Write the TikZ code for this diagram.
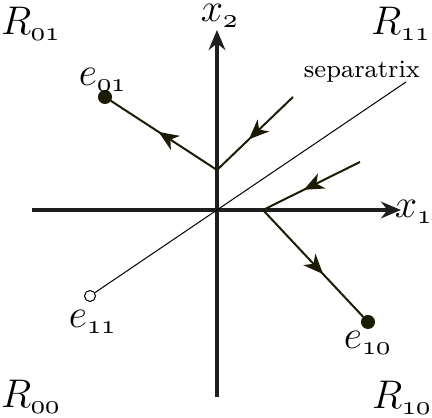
\documentclass[tikz,border=0pt]{standalone}
\usetikzlibrary{arrows.meta,decorations.markings}

\definecolor{axisgray}{RGB}{30,30,30}
\definecolor{trajcol}{RGB}{28,28,5}

\tikzset{
  axis/.style={line width=1pt, axisgray, -{Stealth[length=6pt,width=5pt]}},
  traj/.style={line width=0.6pt, trajcol},
  midarrow/.style={postaction={decorate}, decoration={markings,
      mark=at position #1 with {\arrow{Stealth[length=6pt,width=5pt,inset=1.8pt]}}}},
  sepline/.style={line width=0.3pt, black},
  fixpt/.style={circle, draw=trajcol, fill=trajcol, inner sep=0pt, minimum size=3.8pt},
  openpt/.style={circle, draw=black, fill=white, line width=0.3pt, inner sep=0pt, minimum size=3.3pt},
  lbl/.style={font=\fontsize{11.5}{13}\selectfont}
}

\begin{document}
\begin{tikzpicture}[x=0.3pt, y=-0.3pt]
  \useasboundingbox (0,0) rectangle (432,418);

  % axes
  \coordinate (O) at (217,210);
  \coordinate (xL) at (32,210);
  \coordinate (xR) at (401,210);
  \coordinate (yB) at (217,397);
  \coordinate (yT) at (217,30);
  \draw[axis] (xL) -- (xR);
  \draw[axis] (yB) -- (yT);
  \node[lbl] at (414,212) {$x_{\mathnormal{1}}$};
  \node[lbl, inner sep=0pt, anchor=south] at (220,28) {$x_{\mathnormal{2}}$};

  % region labels
  \node[lbl] (R01) at (31,24) {$R_{\mathnormal{01}}$};
  \node[lbl] (R11) at (401,24) {$R_{\mathnormal{11}}$};
  \node[lbl] (R00) at (31,397) {$R_{\mathnormal{00}}$};
  \node[lbl] (R10) at (402,398) {$R_{\mathnormal{10}}$};

  % separatrix
  \node[openpt] (e11) at (90,296) {};
  \coordinate (sEnd) at (406,82);
  \draw[sepline] (e11) -- (sEnd);
  \node at (362,72) {\fontsize{7.5}{9}\selectfont separatrix};

  % equilibria
  \node[fixpt] (e01) at (105,97) {};
  \node[fixpt] (e10) at (368,322) {};
  \node[lbl] at (103,80) {$e_{\mathnormal{01}}$};
  \node[lbl] at (93,322) {$e_{\mathnormal{11}}$};
  \node[lbl] at (368,343) {$e_{\mathnormal{10}}$};

  % trajectories
  \coordinate (J1) at (217,170);
  \coordinate (J2) at (263,210);
  \coordinate (A1) at (293,97);
  \coordinate (A2) at (360,162);
  \draw[traj, midarrow=0.58] (A1) -- (J1);
  \draw[traj, midarrow=0.55] (J1) -- (e01);
  \draw[traj, midarrow=0.58] (A2) -- (J2);
  \draw[traj, midarrow=0.6] (J2) -- (e10);
\end{tikzpicture}
\end{document}
